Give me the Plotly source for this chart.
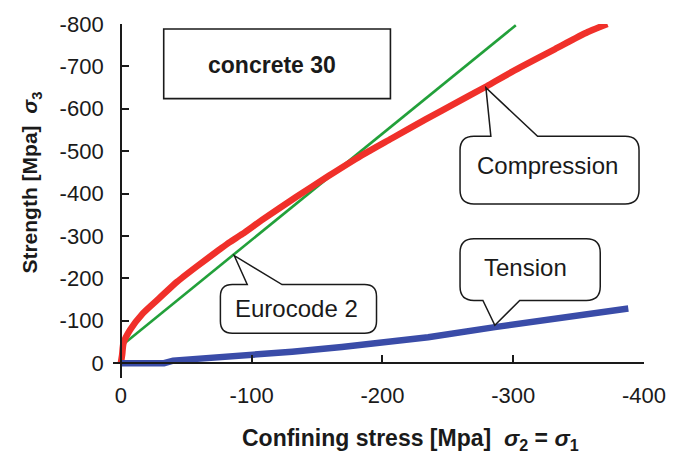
import plotly.graph_objects as go

# ---------------- data ----------------
comp_x = [0, -1, -2, -7, -17, -30, -43, -58, -75, -83, -93, -108, -134, -159, -184,
          -207, -233, -258, -279, -288, -306, -332, -357, -372]
comp_y = [0, -20, -47, -78, -118, -155, -192, -228, -267, -285, -305, -338, -392, -442,
          -490, -530, -575, -617, -652, -668, -699, -741, -781, -800]

euro_x = [0, -302]
euro_y = [-40, -797]

tens_x = [0, -33, -40, -68, -98, -131, -169, -205, -235, -286, -336, -388]
tens_y = [0, 0, -6, -12, -19, -27, -38, -49, -61, -85, -108, -129]

x_ticks = [0, -100, -200, -300, -400]
x_tick_labels = ["0", "-100", "-200", "-300", "-400"]
y_ticks = [0, -100, -200, -300, -400, -500, -600, -700, -800]
y_tick_labels = ["0", "-100", "-200", "-300", "-400", "-500", "-600", "-700", "-800"]

X_RANGE = [6, -400]
Y_RANGE = [35, -800]

# ---------------- layout geometry ----------------
W, H = 678, 458
L, R, T, B = 113, 647, 22, 378  # plot area in pixels


def px(xp):
    return (xp - L) / (R - L)


def py(yp):
    return (B - yp) / (B - T)


FONT = "Liberation Sans, Arial, sans-serif"
INK = "#1a1a1a"

fig = go.Figure()
fig.add_trace(go.Scatter(x=euro_x, y=euro_y, mode="lines",
                         line=dict(color="#22a03a", width=2.6), name="Eurocode 2"))
fig.add_trace(go.Scatter(x=comp_x, y=comp_y, mode="lines",
                         line=dict(color="#f0302a", width=6.5, shape="spline", smoothing=0.6),
                         name="Compression"))
fig.add_trace(go.Scatter(x=tens_x, y=tens_y, mode="lines",
                         line=dict(color="#3a4ca8", width=6.5), name="Tension"))


def bubble(x0, y0, x1, y1, r, b1, b2, tip, side):
    """speech bubble path in paper coords; pixel inputs"""
    P = lambda a, b: f"{px(a):.5f},{py(b):.5f}"
    s = "M " + P(x0 + r, y0)
    if side == "top":
        s += " L " + P(b1, y0) + " L " + P(*tip) + " L " + P(b2, y0)
    s += " L " + P(x1 - r, y0) + " Q " + P(x1, y0) + " " + P(x1, y0 + r)
    s += " L " + P(x1, y1 - r) + " Q " + P(x1, y1) + " " + P(x1 - r, y1)
    if side == "bottom":
        s += " L " + P(b2, y1) + " L " + P(*tip) + " L " + P(b1, y1)
    s += " L " + P(x0 + r, y1) + " Q " + P(x0, y1) + " " + P(x0, y1 - r)
    s += " L " + P(x0, y0 + r) + " Q " + P(x0, y0) + " " + P(x0 + r, y0) + " Z"
    return s


shapes = [
    dict(type="rect", xref="paper", yref="paper", x0=px(164), x1=px(392),
         y0=py(97), y1=py(27), line=dict(color=INK, width=1.6), fillcolor="white", layer="above"),
    dict(type="path", xref="paper", yref="paper",
         path=bubble(462, 135, 642, 203, 14, 493, 540, (488, 86), "top"),
         line=dict(color=INK, width=1.5), fillcolor="white", layer="above"),
    dict(type="path", xref="paper", yref="paper",
         path=bubble(221, 284, 378, 333, 12, 248, 283, (235, 255), "top"),
         line=dict(color=INK, width=1.5), fillcolor="white", layer="above"),
    dict(type="path", xref="paper", yref="paper",
         path=bubble(462, 238, 603, 300, 14, 485, 522, (497, 325), "bottom"),
         line=dict(color=INK, width=1.5), fillcolor="white", layer="above"),
]

annotations = [
    dict(text="<b>concrete 30</b>", x=px(273), y=py(63), font=dict(size=23)),
    dict(text="Compression", x=px(550), y=py(164), font=dict(size=24)),
    dict(text="Eurocode 2", x=px(298), y=py(308), font=dict(size=24)),
    dict(text="Tension", x=px(528), y=py(267), font=dict(size=24)),
    dict(text="<b>Confining stress [Mpa]  <i>σ</i><sub>2</sub> = <i>σ</i><sub>1</sub></b>",
         x=px(412), y=py(440), font=dict(size=23)),
    dict(text="<b>Strength [Mpa]  <i>σ</i><sub>3</sub></b>", x=px(31), y=py(181),
         textangle=-90, font=dict(size=21)),
]
for a in annotations:
    a.update(xref="paper", yref="paper", showarrow=False, xanchor="center", yanchor="middle")
    a["font"].update(family=FONT, color=INK)

axis_common = dict(showgrid=False, zeroline=False, showline=True, linecolor=INK, linewidth=1.6,
                   ticks="inside", ticklen=7, tickwidth=1.5, tickcolor=INK,
                   tickfont=dict(family=FONT, size=22, color=INK), anchor="free")

fig.update_layout(
    width=W, height=H,
    margin=dict(l=L, r=W - R, t=T, b=H - B, pad=0),
    paper_bgcolor="white", plot_bgcolor="white",
    showlegend=False,
    xaxis=dict(range=X_RANGE, tickvals=x_ticks, ticktext=x_tick_labels,
               position=(0 - Y_RANGE[0]) / (Y_RANGE[1] - Y_RANGE[0]),
               ticklabelstandoff=13, **axis_common),
    yaxis=dict(range=Y_RANGE, tickvals=y_ticks, ticktext=y_tick_labels,
               position=(0 - X_RANGE[0]) / (X_RANGE[1] - X_RANGE[0]),
               ticklabelstandoff=12, **axis_common),
    shapes=shapes,
    annotations=annotations,
)

fig.write_html("out.html")
